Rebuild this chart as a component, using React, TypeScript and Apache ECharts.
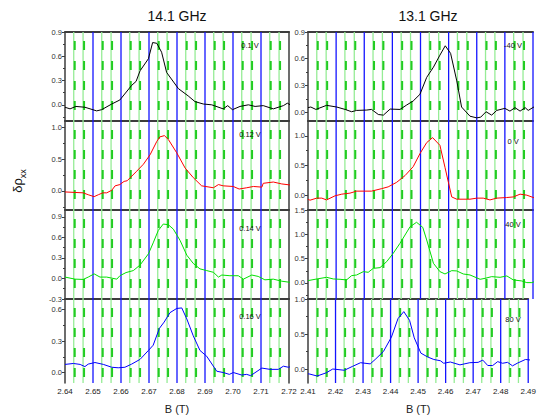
import React, { useEffect, useRef } from "react";
import * as echarts from "echarts";

// ---- data: 14.1 GHz column (B in T, delta rho_xx) ----
const B_01V = [2.640, 2.6418, 2.6439, 2.6471, 2.6513, 2.6531, 2.6567, 2.6596, 2.6638, 2.6654, 2.6668, 2.6698, 2.6713, 2.6728, 2.6745, 2.6763, 2.6805, 2.6840, 2.6864, 2.6894, 2.6924, 2.6965, 2.6981, 2.6998, 2.7025, 2.7055, 2.7079, 2.7108, 2.7144, 2.7180, 2.7194, 2.7210];
const V_01V = [-0.03, -0.05, -0.02, -0.03, -0.075, -0.06, 0.01, 0.06, 0.24, 0.29, 0.42, 0.57, 0.77, 0.76, 0.65, 0.40, 0.20, 0.11, 0.04, 0.01, 0.0, -0.05, -0.01, -0.06, -0.02, 0.0, -0.02, -0.01, -0.05, -0.01, 0.02, -0.01];

const B_012V = [2.640, 2.6465, 2.6483, 2.6504, 2.6519, 2.6535, 2.6549, 2.6567, 2.6579, 2.6596, 2.6611, 2.6622, 2.6656, 2.6680, 2.6704, 2.6728, 2.6739, 2.6755, 2.6769, 2.6799, 2.6829, 2.6858, 2.6888, 2.6930, 2.6948, 2.6965, 2.7001, 2.7022, 2.7049, 2.7073, 2.7103, 2.7108, 2.7144, 2.7174, 2.7210];
const V_012V = [-0.016, -0.03, -0.06, -0.09, -0.06, -0.03, -0.03, 0.01, 0.08, 0.10, 0.15, 0.16, 0.31, 0.42, 0.57, 0.78, 0.85, 0.87, 0.81, 0.60, 0.36, 0.21, 0.08, 0.05, 0.10, 0.08, 0.07, 0.03, 0.05, 0.07, 0.06, 0.12, 0.14, 0.11, 0.09];

const B_014V = [2.6400, 2.6436, 2.6465, 2.6483, 2.6504, 2.6525, 2.6549, 2.6567, 2.6585, 2.6596, 2.6618, 2.6644, 2.6668, 2.6698, 2.6715, 2.6733, 2.6751, 2.6769, 2.6787, 2.6811, 2.6835, 2.6858, 2.6882, 2.6906, 2.6930, 2.6948, 2.6960, 2.6989, 2.7019, 2.7037, 2.7067, 2.7090, 2.7114, 2.7144, 2.7174, 2.7210];
const V_014V = [0.02, -0.01, -0.014, 0.02, 0.067, 0.02, 0.02, 0.005, -0.01, 0.04, 0.086, 0.115, 0.196, 0.36, 0.52, 0.70, 0.795, 0.785, 0.72, 0.555, 0.34, 0.22, 0.14, 0.115, 0.09, 0.02, 0.05, 0.04, 0.04, -0.01, 0.05, 0.03, -0.02, -0.01, -0.04, -0.06];

const B_016V = [2.6400, 2.6430, 2.6454, 2.6471, 2.6483, 2.6507, 2.6537, 2.6567, 2.6590, 2.6614, 2.6638, 2.6668, 2.6698, 2.6715, 2.6737, 2.6754, 2.6775, 2.6799, 2.6817, 2.6835, 2.6858, 2.6882, 2.6906, 2.6942, 2.6965, 2.6987, 2.7001, 2.7031, 2.7049, 2.7063, 2.7103, 2.7132, 2.7162, 2.7180, 2.7198, 2.7216];
const V_016V = [0.077, 0.086, 0.077, 0.056, 0.08, 0.095, 0.077, 0.05, 0.045, 0.05, 0.08, 0.125, 0.21, 0.26, 0.42, 0.48, 0.57, 0.61, 0.615, 0.51, 0.35, 0.21, 0.155, 0.012, 0.0, -0.018, 0.0, -0.024, -0.018, -0.03, 0.042, 0.03, 0.03, 0.06, 0.05, 0.065];

// ---- data: 13.1 GHz column ----
const B_M40V = [2.4100, 2.4110, 2.4128, 2.4166, 2.4202, 2.4232, 2.4255, 2.4273, 2.4309, 2.4326, 2.4350, 2.4368, 2.4392, 2.4427, 2.4451, 2.4474, 2.4498, 2.4522, 2.4546, 2.4569, 2.4588, 2.4607, 2.4629, 2.4646, 2.4676, 2.4700, 2.4714, 2.4733, 2.4753, 2.4771, 2.4800, 2.4818, 2.4836, 2.4854, 2.4872, 2.4883, 2.4907];
const V_M40V = [0.05, 0.057, 0.03, 0.076, 0.057, 0.03, 0.004, 0.019, 0.023, 0.03, -0.027, -0.034, 0.034, 0.03, 0.08, 0.125, 0.2, 0.39, 0.505, 0.64, 0.745, 0.66, 0.35, 0.057, -0.046, -0.065, -0.057, 0.004, -0.034, 0.019, 0.042, 0.011, 0.05, 0.011, 0.05, 0.019, 0.065];

const B_0V = [2.4100, 2.4107, 2.4131, 2.4149, 2.4166, 2.4196, 2.4220, 2.4249, 2.4273, 2.4326, 2.4362, 2.4385, 2.4415, 2.4445, 2.4474, 2.4498, 2.4522, 2.4543, 2.4569, 2.4587, 2.4611, 2.4629, 2.4676, 2.4700, 2.4723, 2.4747, 2.4771, 2.4806, 2.4830, 2.4854, 2.4878, 2.4907];
const V_0V = [-0.068, -0.085, -0.05, -0.05, -0.08, -0.011, 0.017, 0.034, 0.068, 0.068, 0.11, 0.14, 0.216, 0.33, 0.48, 0.70, 0.886, 0.97, 0.84, 0.47, -0.03, -0.068, -0.068, -0.05, -0.05, -0.08, -0.05, -0.04, -0.03, 0.017, 0.0, -0.05];

const B_40V = [2.4100, 2.4125, 2.4166, 2.4190, 2.4214, 2.4237, 2.4255, 2.4273, 2.4297, 2.4314, 2.4332, 2.4356, 2.4380, 2.4403, 2.4427, 2.4463, 2.4486, 2.4508, 2.4522, 2.4546, 2.4569, 2.4587, 2.4611, 2.4629, 2.4652, 2.4676, 2.4712, 2.4730, 2.4753, 2.4783, 2.4807, 2.4830, 2.4860, 2.4878, 2.4896, 2.4911];
const V_40V = [0.048, 0.075, 0.116, 0.082, 0.075, 0.062, 0.15, 0.164, 0.233, 0.219, 0.30, 0.315, 0.44, 0.61, 0.815, 1.157, 1.247, 1.144, 0.884, 0.404, 0.233, 0.185, 0.253, 0.247, 0.185, 0.164, 0.075, 0.096, 0.13, 0.116, 0.144, 0.062, 0.041, 0.007, 0.007, 0.041];

const B_80V = [2.4100, 2.4107, 2.4133, 2.4166, 2.4190, 2.4232, 2.4261, 2.4291, 2.4326, 2.4344, 2.4374, 2.4403, 2.4427, 2.4448, 2.4469, 2.4486, 2.4510, 2.4534, 2.4557, 2.4581, 2.4593, 2.4617, 2.4652, 2.4688, 2.4718, 2.4735, 2.4753, 2.4771, 2.4789, 2.4807, 2.4825, 2.4843, 2.4860, 2.4890, 2.4911];
const V_80V = [-0.068, -0.073, -0.1, -0.055, 0.0, -0.018, 0.036, 0.09, 0.073, 0.136, 0.25, 0.455, 0.72, 0.82, 0.695, 0.445, 0.227, 0.173, 0.136, 0.118, 0.082, 0.1, 0.059, 0.09, 0.095, 0.127, 0.05, 0.05, 0.105, 0.082, 0.095, 0.045, 0.082, 0.136, 0.127];

// ---- axes ----
const X_LEFT = [2.64, 2.72];
const X_RIGHT = [2.41, 2.49];
const Y_RANGES = [[-0.2, 0.9], [-0.3, 1.1], [-0.3, 1.0], [-0.1, 0.7], [-0.1, 0.9], [-0.25, 1.25], [-0.33, 1.5], [-0.2, 1.0]];
const Y_TICKS = [[0, 0.3, 0.6, 0.9], [0, 0.5, 1.0], [-0.3, 0, 0.3, 0.6, 0.9], [0, 0.3, 0.6], [0, 0.3, 0.6, 0.9], [0, 0.5, 1.0], [0, 0.5, 1.0, 1.5], [0, 0.5, 1.0]];
const Y_MINOR = [[-0.15, 0.15, 0.45, 0.75], [-0.25, 0.25, 0.75], [-0.15, 0.15, 0.45, 0.75], [0.15, 0.45], [0.15, 0.45, 0.75], [0.25, 0.75], [-0.25, 0.25, 0.75, 1.25], [0.25, 0.75]];
const PANEL_LABELS = ["0.1 V", "0.12 V", "0.14 V", "0.16 V", "-40 V", "0 V", "40 V", "80 V"];
const COLUMN_TITLES = ["14.1 GHz", "13.1 GHz"];
const Y_NAME = "δρ";
const Y_NAME_SUB = "xx";
const X_NAME = "B (T)";

const SERIES_B = [B_01V, B_012V, B_014V, B_016V, B_M40V, B_0V, B_40V, B_80V];
const SERIES_V = [V_01V, V_012V, V_014V, V_016V, V_M40V, V_0V, V_40V, V_80V];

const FONT = "Liberation Sans, Arial, sans-serif";
const LINE_COLORS = ["#000000", "#ff0000", "#00e000", "#0000ff"];
const COL_LEFT = [65, 308];
const COL_WIDTH = [224, 225];
const ROW_TOP = [32, 121, 210, 299];
const ROW_H = 89;
const DARK = "#3c3c3c";

// grid-line positions derived from the axis range: [value, kind] (kind 1 = major, 0 = minor)
function gridLinesOf(r: number[], step: number, sub: number, keepLast: boolean) {
  const out: number[][] = [];
  const n = Math.round((r[1] - r[0]) / step);
  for (let k = 0; k <= n; k++) {
    if (k > 0 && (k < n || keepLast)) out.push([r[0] + k * step, 1]);
    if (k < n) for (let s = 1; s < sub; s++) out.push([r[0] + (k + s / sub) * step, 0]);
  }
  return out;
}

function renderGridLine(params: any, api: any) {
  const cs = params.coordSys;
  const p = api.coord([api.value(0), 0]);
  const x = p[0];
  const y1 = cs.y;
  const y2 = cs.y + cs.height;
  if (api.value(1) === 1) {
    return { type: "line", shape: { x1: x, y1, x2: x, y2 }, style: { stroke: "#1414ff", lineWidth: 1.3 } };
  }
  return {
    type: "group",
    children: [
      { type: "line", shape: { x1: x - 0.6, y1, x2: x - 0.6, y2 }, style: { stroke: "#96ec96", lineWidth: 1.3 } },
      { type: "line", shape: { x1: x + 0.4, y1: y1 + 9, x2: x + 0.4, y2 }, style: { stroke: "#22cc22", lineWidth: 2, lineDash: [9, 11] } },
    ],
  };
}

function buildOption() {
  const grid: any[] = [];
  const xAxis: any[] = [];
  const yAxis: any[] = [];
  const series: any[] = [];
  const graphic: any[] = [];

  for (let i = 0; i < 8; i++) {
    const col = i < 4 ? 0 : 1;
    const row = i % 4;
    const xr = col === 0 ? X_LEFT : X_RIGHT;
    const yr = Y_RANGES[i];
    grid.push({ left: COL_LEFT[col], width: COL_WIDTH[col], top: ROW_TOP[row], height: ROW_H, containLabel: false });

    const xa = xAxis.length;
    xAxis.push({
      type: "value", gridIndex: i, min: xr[0], max: xr[1], interval: 0.01, position: "bottom",
      axisLine: { show: false }, axisTick: { show: false },
      axisLabel: { show: row === 3, fontSize: 8, margin: 4, color: "#222", fontFamily: FONT, formatter: (v: number) => v.toFixed(2) },
      splitLine: { show: false },
      name: row === 3 ? X_NAME : "", nameLocation: "middle", nameGap: 20,
      nameTextStyle: { fontSize: 11, color: "#222", fontFamily: FONT },
    });
    xAxis.push({
      type: "value", gridIndex: i, min: xr[0], max: xr[1], interval: 0.01, position: "top",
      axisLine: { show: true, onZero: false, lineStyle: { color: DARK, width: 2 } },
      axisTick: { show: false }, axisLabel: { show: false },
      splitLine: { show: false },
    });

    const ya = yAxis.length;
    yAxis.push({
      type: "value", gridIndex: i, min: yr[0], max: yr[1], position: "left", offset: 0,
      axisLine: { show: true, onZero: false, lineStyle: { color: DARK, width: 1.5 } },
      axisTick: { show: true, customValues: Y_TICKS[i], length: 3, lineStyle: { color: DARK } },
      axisLabel: { customValues: Y_TICKS[i], fontSize: 7.5, margin: 3, color: "#333", fontFamily: FONT, formatter: (v: number) => v.toFixed(1) },
      splitLine: { show: false },
    });
    yAxis.push({
      type: "value", gridIndex: i, min: yr[0], max: yr[1], position: "left", offset: 0,
      axisLine: { show: false },
      axisTick: { show: true, customValues: Y_MINOR[i], length: 2, lineStyle: { color: DARK } },
      axisLabel: { show: false }, splitLine: { show: false },
    });
    if (col === 0) {
      yAxis.push({
        type: "value", gridIndex: i, min: yr[0], max: yr[1], position: "right", offset: 0,
        axisLine: { show: true, onZero: false, lineStyle: { color: DARK, width: 1.5 } },
        axisTick: { show: false }, axisLabel: { show: false }, splitLine: { show: false },
      });
    }

    series.push({
      type: "custom", xAxisIndex: xa, yAxisIndex: ya, silent: true, z: 1, clip: false,
      data: gridLinesOf(xr, 0.01, 3, col === 1),
      renderItem: renderGridLine,
      encode: { x: 0 },
    });

    const bs = SERIES_B[i];
    const vs = SERIES_V[i];
    series.push({
      type: "line", xAxisIndex: xa, yAxisIndex: ya,
      data: bs.map((b, k) => [b, vs[k]]),
      symbol: "none", clip: false, z: 5,
      lineStyle: { color: LINE_COLORS[row], width: 1 },
    });

    graphic.push({
      type: "text",
      x: col === 0 ? 250 : 513,
      y: row === 0 ? 45 : row === 1 ? (col === 0 ? 134 : 141) : row === 2 ? (col === 0 ? 228 : 224) : (col === 0 ? 316 : 319),
      style: { text: PANEL_LABELS[i], fontSize: 7.5, fontFamily: FONT, fill: "#111", align: "center", verticalAlign: "middle" },
      z: 100,
    });
  }

  graphic.push({ type: "text", x: 177, y: 16, style: { text: COLUMN_TITLES[0], fontSize: 14, fontFamily: FONT, fill: "#111", align: "center", verticalAlign: "middle" } });
  graphic.push({ type: "text", x: 428, y: 16, style: { text: COLUMN_TITLES[1], fontSize: 14, fontFamily: FONT, fill: "#111", align: "center", verticalAlign: "middle" } });
  graphic.push({
    type: "text", x: 19, y: 181, rotation: Math.PI / 2,
    style: {
      text: `{a|${Y_NAME}}{b|${Y_NAME_SUB}}`,
      align: "center", verticalAlign: "middle", fill: "#111",
      rich: {
        a: { fontSize: 13, fontFamily: FONT, fill: "#111", padding: [0, 0, 4, 0] },
        b: { fontSize: 9, fontFamily: FONT, fill: "#111", verticalAlign: "bottom" },
      },
    },
  });

  return { animation: false, backgroundColor: "#ffffff", grid, xAxis, yAxis, series, graphic };
}

export default function App() {
  const ref = useRef<HTMLDivElement>(null);
  useEffect(() => {
    const chart = echarts.init(ref.current as HTMLDivElement, null, { renderer: "svg" });
    chart.setOption(buildOption() as any);
    return () => chart.dispose();
  }, []);
  return <div ref={ref} style={{ position: "fixed", left: 0, top: 0, width: 539, height: 415, background: "#fff" }} />;
}
